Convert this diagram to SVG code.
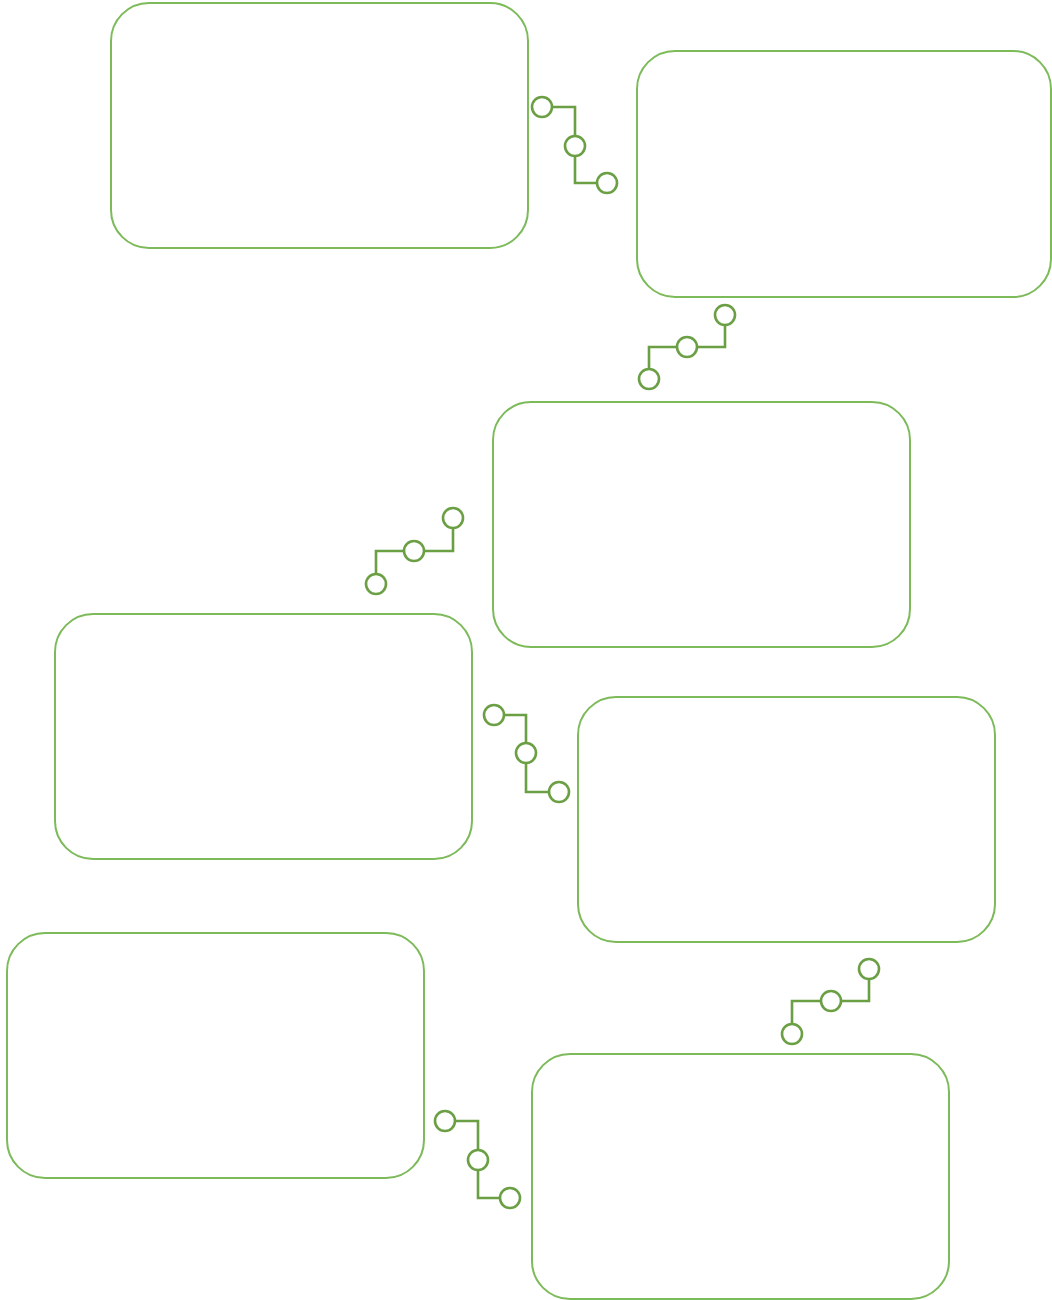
<svg xmlns="http://www.w3.org/2000/svg" width="1052" height="1300" viewBox="0 0 1052 1300">
<style>
.box{fill:#fff;stroke:#7cba5a;stroke-width:2}
.ln{fill:none;stroke:#6a9f44;stroke-width:2.6}
.dot{fill:#fff;stroke:#6a9f44;stroke-width:2.6}
</style>
<rect width="1052" height="1300" fill="#fff"/>
<g id="node1"><rect class="box" x="111" y="3" width="417" height="245" rx="38"/></g>
<g id="node2"><rect class="box" x="637" y="51" width="414" height="246" rx="38"/></g>
<g id="node3"><rect class="box" x="493" y="402" width="417" height="245" rx="38"/></g>
<g id="node4"><rect class="box" x="55" y="614" width="417" height="245" rx="38"/></g>
<g id="node5"><rect class="box" x="578" y="697" width="417" height="245" rx="38"/></g>
<g id="node6"><rect class="box" x="7" y="933" width="417" height="245" rx="38"/></g>
<g id="node7"><rect class="box" x="532" y="1054" width="417" height="245" rx="38"/></g>
<g id="connectors">
<g id="c1">
<path class="ln" d="M552,107 H575 V183 H597"/>
<circle class="dot" cx="542" cy="107" r="10"/><circle class="dot" cx="575" cy="146" r="10"/><circle class="dot" cx="607" cy="183" r="10"/>
</g>
<g id="c2">
<path class="ln" d="M725,325 V347 H649 V369"/>
<circle class="dot" cx="725" cy="315" r="10"/><circle class="dot" cx="687" cy="347" r="10"/><circle class="dot" cx="649" cy="379" r="10"/>
</g>
<g id="c3">
<path class="ln" d="M453,528 V551 H376 V574"/>
<circle class="dot" cx="453" cy="518" r="10"/><circle class="dot" cx="414" cy="551" r="10"/><circle class="dot" cx="376" cy="584" r="10"/>
</g>
<g id="c4">
<path class="ln" d="M504,715 H526 V792 H549"/>
<circle class="dot" cx="494" cy="715" r="10"/><circle class="dot" cx="526" cy="753" r="10"/><circle class="dot" cx="559" cy="792" r="10"/>
</g>
<g id="c5">
<path class="ln" d="M869,979 V1001 H792 V1024"/>
<circle class="dot" cx="869" cy="969" r="10"/><circle class="dot" cx="831" cy="1001" r="10"/><circle class="dot" cx="792" cy="1034" r="10"/>
</g>
<g id="c6">
<path class="ln" d="M455,1121 H478 V1198 H500"/>
<circle class="dot" cx="445" cy="1121" r="10"/><circle class="dot" cx="478" cy="1160" r="10"/><circle class="dot" cx="510" cy="1198" r="10"/>
</g>
</g>
</svg>
